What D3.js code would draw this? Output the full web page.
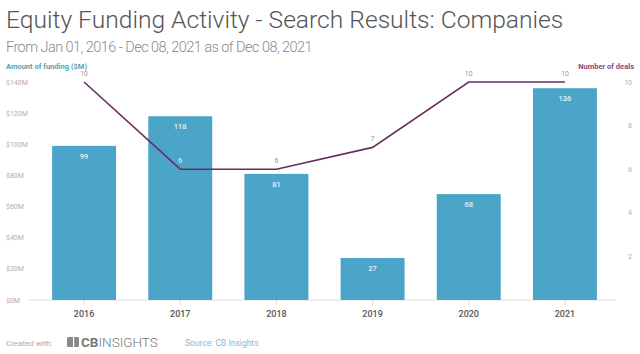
<!DOCTYPE html>
<html>

<head>
  <meta charset='utf-8'>
  <script type="text/javascript" src="https://cdn.jsdelivr.net/npm/d3@7"></script>
  <style type="text/css">
    body {
      margin: 0;
      background: #fff;
    }

    text {
      font-family: Roboto, "Noto Sans", sans-serif;
    }
  </style>
</head>

<body>
</body>

<script type="text/javascript">
  let w = 640;
  let h = 354;

  // chart data
  let years = ["2016", "2017", "2018", "2019", "2020", "2021"]
  let funding = [99, 118, 81, 27, 68, 136]
  let deals = [10, 6, 6, 7, 10, 10]
  let fundingTicks = [0, 20, 40, 60, 80, 100, 120, 140]
  let dealTicks = [2, 4, 6, 8, 10]

  let barColor = "#4aa5c9"
  let lineColor = "#6a2d5e"

  let svg = d3.select("body")
    .append("svg")
    .attr("width", w)
    .attr("height", h)

  // titles
  svg.append("text")
    .attr("x", 6).attr("y", 28)
    .attr("font-size", 24.6).attr("font-weight", 300)
    .attr("fill", "#555")
    .text("Equity Funding Activity - Search Results: Companies")
  svg.append("text")
    .attr("x", 6).attr("y", 52)
    .attr("font-size", 14.5).attr("font-weight", 300)
    .attr("letter-spacing", -0.55)
    .attr("fill", "#8a8a8a")
    .text("From Jan 01, 2016 - Dec 08, 2021 as of Dec 08, 2021")

  svg.append("text")
    .attr("x", 6).attr("y", 69)
    .attr("font-size", 7.5).attr("font-weight", 700)
    .attr("fill", "#5b9fb5")
    .text("Amount of funding ($M)")
  svg.append("text")
    .attr("x", 634).attr("y", 69)
    .attr("text-anchor", "end")
    .attr("font-size", 7.5).attr("font-weight", 700)
    .attr("fill", "#8a4a78")
    .text("Number of deals")

  //scales
  let x = d3.scaleBand()
    .domain(years)
    .range([36, 613])
    .paddingInner(0.335)
    .paddingOuter(0.1675)
  let y = d3.scaleLinear().domain([0, 140]).range([300, 82])
  let y2 = d3.scaleLinear().domain([0, 10]).range([300, 82])

  // left axis labels
  svg.selectAll(".ly")
    .data(fundingTicks)
    .enter()
    .append("text")
    .attr("class", "ly")
    .attr("x", 6)
    .attr("y", d => y(d) + 2.5)
    .attr("font-size", 7)
    .attr("fill", "#b0b0b0")
    .text(d => "$" + d + "M")

  // right axis labels
  svg.selectAll(".ry")
    .data(dealTicks)
    .enter()
    .append("text")
    .attr("class", "ry")
    .attr("x", 632)
    .attr("y", d => y2(d) + 2.5)
    .attr("text-anchor", "end")
    .attr("font-size", 7)
    .attr("fill", "#b0b0b0")
    .text(d => d)

  // baseline
  svg.append("line")
    .attr("x1", 28).attr("x2", 616)
    .attr("y1", y(0)).attr("y2", y(0))
    .attr("stroke", "#ddd").attr("stroke-width", 1)

  // x axis
  let xAxis = d3.axisBottom(x).tickSize(5).tickPadding(6)
  let gx = svg.append("g")
    .attr("transform", "translate(0," + y(0) + ")")
    .call(xAxis)
  gx.select(".domain").remove()
  gx.selectAll("line").attr("stroke", "#ddd")
  gx.selectAll("text")
    .attr("font-size", 9)
    .attr("font-weight", 500)
    .attr("fill", "#555")

  // bars
  svg.selectAll(".bar")
    .data(funding)
    .enter()
    .append("rect")
    .attr("class", "bar")
    .attr("x", (d, i) => x(years[i]))
    .attr("y", d => y(d))
    .attr("width", x.bandwidth())
    .attr("height", d => y(0) - y(d))
    .attr("fill", barColor)

  svg.selectAll(".barlabel")
    .data(funding)
    .enter()
    .append("text")
    .attr("class", "barlabel")
    .attr("x", (d, i) => x(years[i]) + x.bandwidth() / 2)
    .attr("y", d => y(d) + 13)
    .attr("text-anchor", "middle")
    .attr("font-size", 7.5)
    .attr("font-weight", 500)
    .attr("fill", "#e8f4fa")
    .text(d => d)

  // deals line
  let line = d3.line()
    .x((d, i) => x(years[i]) + x.bandwidth() / 2)
    .y(d => y2(d))

  svg.append("path")
    .datum(deals)
    .attr("d", line)
    .attr("fill", "none")
    .attr("stroke", lineColor)
    .attr("stroke-width", 1.6)

  svg.selectAll(".dlabel")
    .data(deals)
    .enter()
    .append("text")
    .attr("class", "dlabel")
    .attr("x", (d, i) => x(years[i]) + x.bandwidth() / 2)
    .attr("y", d => y2(d) - 6)
    .attr("text-anchor", "middle")
    .attr("font-size", 7)
    .attr("fill", (d, i) => (y2(d) > y(funding[i])) ? "#e8f4fa" : "#999")
    .text(d => d)

  // footer
  svg.append("text")
    .attr("x", 6).attr("y", 346)
    .attr("font-size", 8)
    .attr("fill", "#aaa")
    .text("Created with:")
  svg.append("rect")
    .attr("x", 67).attr("y", 337)
    .attr("width", 12).attr("height", 10)
    .attr("rx", 1.5)
    .attr("fill", "#888")
  svg.append("rect")
    .attr("x", 73).attr("y", 337)
    .attr("width", 1.2).attr("height", 10)
    .attr("fill", "#fff")
  let logo = svg.append("text")
    .attr("x", 81).attr("y", 347)
    .attr("font-size", 13.5)
    .attr("fill", "#777")
  logo.append("tspan").attr("font-weight", 700).text("CB")
  logo.append("tspan").attr("font-weight", 300).text("INSIGHTS")
  svg.append("text")
    .attr("x", 185).attr("y", 346)
    .attr("font-size", 8.5)
    .attr("fill", "#8fb6cf")
    .text("Source: CB Insights")

</script>

</html>
